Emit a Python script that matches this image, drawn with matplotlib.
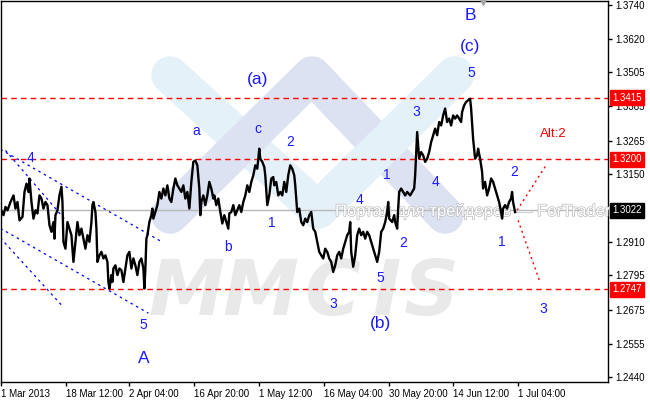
import matplotlib
matplotlib.use('Agg')
import matplotlib.pyplot as plt
import matplotlib.transforms as mtransforms
import matplotlib.patheffects as pe

# EURUSD H4 close (x = bar number, one bar per pixel)
bars = [0, 3, 5, 7, 10, 13, 15, 17, 19, 22, 24, 26, 28, 29, 31, 33, 35, 37, 39, 41,
        43, 45, 47, 49, 51, 53, 54, 55, 57, 59, 61, 62, 63, 65, 67, 69, 71, 73, 75, 77,
        79, 81, 83, 85, 87, 89, 91, 92, 93, 95, 96, 97, 99, 101, 103, 105, 107, 108, 109, 111,
        112, 113, 115, 117, 119, 121, 123, 125, 127, 129, 131, 133, 135, 137, 139, 141, 143, 144, 145, 146,
        147, 149, 151, 152, 153, 155, 157, 159, 161, 163, 165, 167, 169, 171, 173, 175, 177, 179, 181, 183,
        185, 187, 189, 191, 193, 195, 197, 199, 200, 201, 203, 205, 207, 209, 211, 213, 214, 216, 218, 220,
        222, 224, 226, 228, 229, 231, 233, 235, 237, 239, 241, 243, 245, 247, 249, 251, 253, 255, 257, 259,
        260, 262, 264, 265, 267, 269, 271, 273, 274, 276, 278, 280, 282, 284, 286, 288, 290, 292, 294, 295,
        297, 299, 301, 303, 305, 307, 309, 311, 313, 315, 317, 319, 321, 323, 325, 327, 329, 331, 333, 335,
        337, 339, 341, 343, 345, 347, 349, 350, 351, 353, 355, 357, 359, 361, 363, 365, 367, 369, 371, 373,
        375, 377, 379, 381, 383, 385, 387, 388, 389, 392, 394, 395, 397, 398, 399, 401, 403, 405, 407, 410,
        412, 414, 415, 417, 418, 419, 421, 423, 425, 427, 429, 431, 433, 435, 437, 439, 441, 443, 445, 447,
        449, 451, 453, 455, 457, 459, 461, 462, 464, 466, 468, 470, 471, 473, 474, 475, 477, 478, 480, 482,
        483, 485, 487, 489, 491, 493, 495, 497, 499, 501, 502, 503, 505, 507, 509, 511, 512, 513, 515]
close = [1.3028, 1.3005, 1.3034, 1.3022, 1.3051, 1.3074, 1.3028, 1.3051, 1.2987, 1.2999,
         1.3086, 1.3115, 1.3086, 1.3133, 1.3051, 1.2993, 1.3022, 1.3011, 1.3074, 1.3063,
         1.3028, 1.3051, 1.3040, 1.2970, 1.2947, 1.2981, 1.2923, 1.3005, 1.3022, 1.3074,
         1.3104, 1.3051, 1.2912, 1.2888, 1.2981, 1.2958, 1.2935, 1.2842, 1.2912, 1.2981,
         1.2935, 1.2958, 1.2923, 1.2888, 1.2935, 1.2912, 1.2981, 1.3040, 1.3051, 1.3016,
         1.2958, 1.2842, 1.2865, 1.2877, 1.2854, 1.2865, 1.2842, 1.2772, 1.2749, 1.2796,
         1.2772, 1.2819, 1.2830, 1.2796, 1.2819, 1.2813, 1.2772, 1.2819, 1.2865, 1.2877,
         1.2819, 1.2854, 1.2830, 1.2796, 1.2842, 1.2854, 1.2819, 1.2749, 1.2819, 1.2923,
         1.2935, 1.2981, 1.3005, 1.3028, 1.2993, 1.3016, 1.3040, 1.3086, 1.3063, 1.3098,
         1.3074, 1.3109, 1.3063, 1.3051, 1.3098, 1.3133, 1.3109, 1.3098, 1.3086, 1.3109,
         1.3063, 1.3086, 1.3028, 1.3121, 1.3191, 1.3196, 1.3179, 1.3098, 1.3005, 1.3051,
         1.3074, 1.3040, 1.3074, 1.3121, 1.3098, 1.3063, 1.3074, 1.3040, 1.3063, 1.3016,
         1.2976, 1.3005, 1.2981, 1.2958, 1.3011, 1.3016, 1.3040, 1.3005, 1.3022, 1.3040,
         1.3016, 1.3051, 1.3074, 1.3109, 1.3086, 1.3121, 1.3144, 1.3179, 1.3167, 1.3237,
         1.3202, 1.3191, 1.3173, 1.3144, 1.3040, 1.3074, 1.3133, 1.3138, 1.3109, 1.3121,
         1.3074, 1.3086, 1.3074, 1.3121, 1.3086, 1.3144, 1.3179, 1.3167, 1.3144, 1.3109,
         1.3016, 1.3028, 1.2981, 1.2970, 1.2993, 1.2981, 1.3005, 1.3016, 1.2958, 1.2947,
         1.2912, 1.2877, 1.2865, 1.2854, 1.2888, 1.2877, 1.2854, 1.2842, 1.2807, 1.2830,
         1.2865, 1.2877, 1.2854, 1.2888, 1.2912, 1.2935, 1.2947, 1.2981, 1.2877, 1.2825,
         1.2865, 1.2935, 1.2958, 1.2935, 1.2947, 1.2923, 1.2947, 1.2935, 1.2912, 1.2888,
         1.2865, 1.2842, 1.2877, 1.2947, 1.2958, 1.2981, 1.3016, 1.3051, 1.2993, 1.2981,
         1.3005, 1.2981, 1.2958, 1.3028, 1.3086, 1.3098, 1.3086, 1.3074, 1.3086, 1.3074,
         1.3086, 1.3098, 1.3144, 1.3295, 1.3249, 1.3202, 1.3225, 1.3214, 1.3191, 1.3202,
         1.3225, 1.3260, 1.3284, 1.3307, 1.3284, 1.3330, 1.3318, 1.3353, 1.3377, 1.3330,
         1.3342, 1.3318, 1.3353, 1.3342, 1.3353, 1.3342, 1.3330, 1.3365, 1.3388, 1.3400,
         1.3406, 1.3411, 1.3377, 1.3272, 1.3237, 1.3202, 1.3214, 1.3237, 1.3202, 1.3156,
         1.3098, 1.3121, 1.3074, 1.3098, 1.3133, 1.3121, 1.3098, 1.3074, 1.3051, 1.3016,
         1.2993, 1.3028, 1.3040, 1.3028, 1.3051, 1.3063, 1.3086, 1.3051, 1.3016]

last_price = 1.3022
red_levels = [1.3415, 1.3200, 1.2747]

# descending channel lines (blue dotted)
channel_bars = [[0, 162], [5, 66], [0, 148], [0, 63]]
channel_prices = [[1.3235, 1.2911], [1.3231, 1.2984], [1.2959, 1.2663], [1.2925, 1.2684]]

# forecast paths (red dotted)
forecast_bars = [[517, 546], [518, 540]]
forecast_prices = [[1.3022, 1.3179], [1.2987, 1.2771]]

# wave counts
wave_text = ['4', 'a', 'c', '2', '1', '3', '5', '4', '2', '1', '3',
             'b', '1', '4', '3', '5', '2', '5']
wave_bar = [30, 196, 258, 290, 387, 416, 471, 435, 514, 502, 543,
            228, 272, 359, 333, 380, 403, 143]
wave_price = [1.3203, 1.3297, 1.3304, 1.3259, 1.3144, 1.3364, 1.3500, 1.3120, 1.3155, 1.2911, 1.2677,
              1.2893, 1.2977, 1.3057, 1.2695, 1.2785, 1.2907, 1.2621]
big_text = ['(a)', '(c)', 'B', '(b)', 'A']
big_bar = [257, 470, 470, 380, 143]
big_price = [1.3479, 1.3594, 1.3702, 1.2628, 1.2506]

price_ticks = [1.3740, 1.3620, 1.3505, 1.3385, 1.3265, 1.3150, 1.2910, 1.2795, 1.2675, 1.2555, 1.2440]
date_ticks = [1, 66, 129, 194, 259, 324, 389, 453, 518]
date_labels = ['1 Mar 2013', '18 Mar 12:00', '2 Apr 04:00', '16 Apr 20:00', '1 May 12:00',
               '16 May 04:00', '30 May 20:00', '14 Jun 12:00', '1 Jul 04:00']

fig = plt.figure(figsize=(6.5, 4), dpi=100)
ax = fig.add_axes([0.5 / 650, 18 / 400, 607.5 / 650, 381.5 / 400])
ax.set_xlim(0, 608)
ax.set_ylim(1.2423, 1.3754)

# watermark (drawn in picture pixels)
px = mtransforms.Affine2D().scale(1, -1).translate(0, 400)
logo = dict(lw=27, solid_capstyle='round', solid_joinstyle='round', transform=px)
ax.plot([170, 318, 455], [75, 210, 75], color='#e5f1f9', zorder=0.5, **logo)
ax.plot([170, 312, 445], [215, 75, 215], color='#dde2f3', zorder=0.6, **logo)
ax.plot([318, 455], [210, 75], color='#e5f1f9', zorder=0.65, **logo)
for ch, x0 in zip('MMCIS', [148, 222, 304, 372, 404]):
    ax.text(x0, 315, ch, transform=px, fontsize=55, fontweight='bold', style='italic',
            family='DejaVu Sans', color='#e9e9e9', va='baseline', ha='left', zorder=0.7)
ax.text(335, 216, 'Портал для трейдеров — ForTrader.ru', transform=px, fontsize=12,
        family='Liberation Sans', color='white', va='baseline', ha='left', zorder=3,
        path_effects=[pe.Stroke(linewidth=1.0, foreground='#bdbdbd'), pe.Normal()])

for lvl in red_levels:
    ax.axhline(lvl, color='red', lw=1, linestyle=(0, (4, 3)), zorder=2)
ax.axhline(last_price, color='#b8b8b8', lw=1, zorder=1)

for xs, ys in zip(channel_bars, channel_prices):
    ax.plot(xs, ys, color='blue', lw=0.9, linestyle=(0, (2, 3)), zorder=2)
for xs, ys in zip(forecast_bars, forecast_prices):
    ax.plot(xs, ys, color='red', lw=1, linestyle=(0, (1.5, 2.5)), zorder=2)

ax.plot(bars, close, color='black', lw=1.7, zorder=4)

for t, x, y in zip(wave_text, wave_bar, wave_price):
    ax.text(x, y, t, color='#1a1aff', fontsize=10, family='Liberation Sans',
            ha='center', va='center', zorder=5)
for t, x, y in zip(big_text, big_bar, big_price):
    ax.text(x, y, t, color='#1a1aff', fontsize=12.5, family='Liberation Sans',
            ha='center', va='center', zorder=5)
ax.text(553, 1.3287, 'Alt:2', color='red', fontsize=9.5, family='Liberation Sans',
        ha='center', va='center', zorder=5)

# chart shift marker at the top edge
ax.plot([483], [1.3754], marker='v', color='#a8a8a8', markersize=6, clip_on=False, zorder=6)

# axes styling like the terminal
ax.yaxis.tick_right()
ax.set_yticks(price_ticks)
ax.set_yticklabels(['%.4f' % p for p in price_ticks])
ax.set_xticks(date_ticks)
ax.set_xticklabels(date_labels)
for lab in ax.get_xticklabels():
    lab.set_horizontalalignment('left')
ax.tick_params(axis='both', length=3, width=1, color='black', labelsize=7, pad=2)
for lab in ax.get_xticklabels() + ax.get_yticklabels():
    lab.set_family('Liberation Sans')
for sp in ax.spines.values():
    sp.set_color('black')
    sp.set_linewidth(1)

side = mtransforms.blended_transform_factory(ax.transAxes, ax.transData)
for lvl in red_levels:
    ax.text(1.007, lvl, '%.4f' % lvl, transform=side, color='white', fontsize=7,
            family='Liberation Sans', va='center', ha='left', clip_on=False, zorder=10,
            bbox=dict(boxstyle='square,pad=0.25', facecolor='red', edgecolor='red'))
ax.text(1.007, last_price, '%.4f' % last_price, transform=side, color='white', fontsize=7,
        family='Liberation Sans', va='center', ha='left', clip_on=False, zorder=10,
        bbox=dict(boxstyle='square,pad=0.25', facecolor='black', edgecolor='black'))

fig.savefig('out.png', dpi=100)
